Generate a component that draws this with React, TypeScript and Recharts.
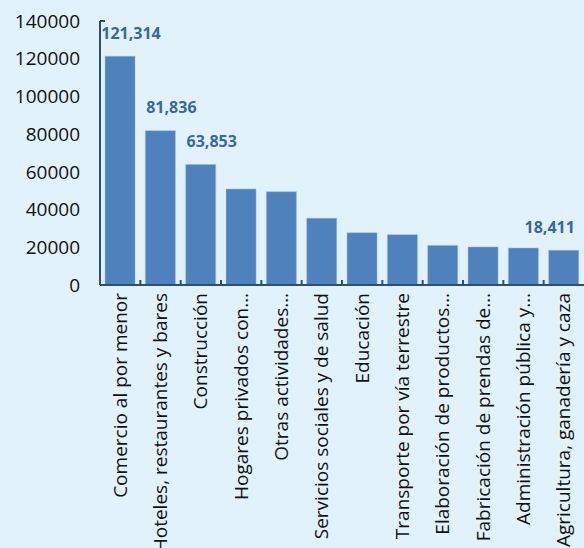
import { BarChart, Bar, XAxis, YAxis, LabelList } from "recharts";

const categories = [
  "Comercio al por menor",
  "Hoteles, restaurantes y bares",
  "Construcción",
  "Hogares privados con…",
  "Otras actividades…",
  "Servicios sociales y de salud",
  "Educación",
  "Transporte por vía terrestre",
  "Elaboración de productos…",
  "Fabricación de prendas de…",
  "Administración pública y…",
  "Agricultura, ganadería y caza",
];
const values = [121314, 81836, 63853, 50900, 49500, 35400, 27700, 26700, 20900, 20200, 19600, 18411];
const labeled = [true, true, true, false, false, false, false, false, false, false, false, true];
const yTicks = [0, 20000, 40000, 60000, 80000, 100000, 120000, 140000];

const data = categories.map((name, i) => ({ name, value: values[i] }));

const FONT = "'Open Sans', sans-serif";
const AXIS = "#264f82";
const BAR = "#4f81bd";
const LABEL = "#3a66a3";

const CategoryTick = (props: any) => {
  const { x, y, payload } = props;
  const half = payload?.offset ?? 20;
  return (
    <g>
      <line x1={x - half} x2={x - half} y1={y} y2={y - 5} stroke={AXIS} strokeWidth={2} />
      <text
        x={0}
        y={0}
        transform={`translate(${x},${y + 8}) rotate(-90)`}
        textAnchor="end"
        dy="0.35em"
        fontSize={19}
        fontFamily={FONT}
        fill="#111"
      >
        {payload.value}
      </text>
    </g>
  );
};

const ValueTick = (props: any) => {
  const { x, y, payload } = props;
  const top = payload.value === yTicks[yTicks.length - 1];
  return (
    <g>
      {top && <line x1={x + 20} x2={x + 25} y1={y} y2={y} stroke={AXIS} strokeWidth={2} />}
      <text x={x} y={y} dy="0.35em" textAnchor="end" fontSize={19} fontFamily={FONT} fill="#111">
        {payload.value}
      </text>
    </g>
  );
};

const ValueLabel = (props: any) => {
  const { x, y, width, index, value } = props;
  if (!labeled[index]) return null;
  const shift = index === values.length - 1 ? -14 : 11;
  return (
    <text
      x={x + width / 2 + shift}
      y={y - 23}
      dy="0.35em"
      textAnchor="middle"
      fontSize={16}
      fontWeight="bold"
      fontFamily={FONT}
      fill={LABEL}
    >
      {Number(value).toLocaleString("en-US")}
    </text>
  );
};

export default function App() {
  return (
    <div style={{ position: "absolute", left: 0, top: 0, width: 584, height: 548, background: "#e1f2fb" }}>
      <BarChart
        width={584}
        height={548}
        data={data}
        margin={{ top: 21, right: 0, left: 0, bottom: 0 }}
        barCategoryGap="12.5%"
      >
        <XAxis
          dataKey="name"
          interval={0}
          height={263}
          tickSize={0}
          tickMargin={0}
          tickLine={false}
          axisLine={{ stroke: AXIS, strokeWidth: 2 }}
          tick={<CategoryTick />}
        />
        <YAxis
          width={100}
          domain={[0, 140000]}
          ticks={yTicks}
          interval={0}
          tickLine={false}
          tickSize={0}
          tickMargin={20}
          axisLine={{ stroke: AXIS, strokeWidth: 2 }}
          tick={<ValueTick />}
        />
        <Bar dataKey="value" fill={BAR} stroke="#9ab9dd" strokeWidth={0.5} isAnimationActive={false}>
          <LabelList dataKey="value" content={<ValueLabel />} />
        </Bar>
      </BarChart>
    </div>
  );
}
